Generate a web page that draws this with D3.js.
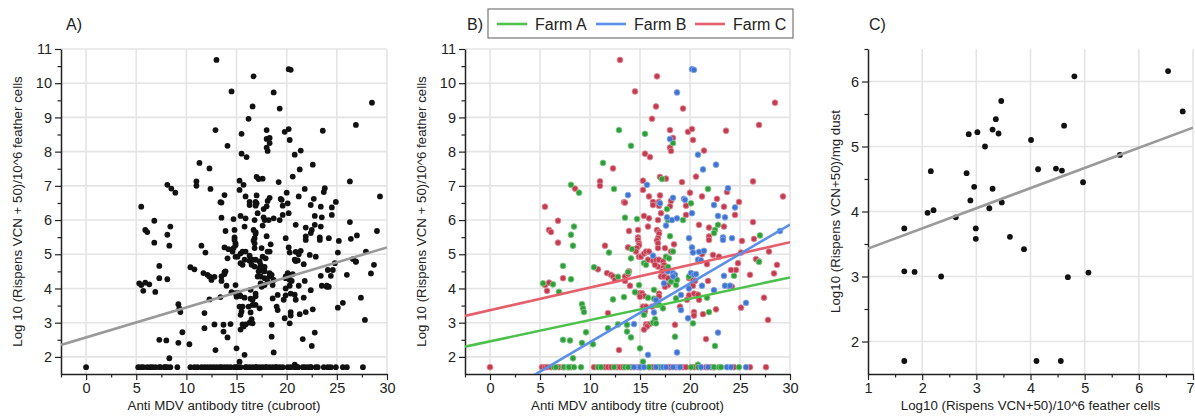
<!DOCTYPE html>
<html>
<head>
<meta charset="utf-8">
<script src="https://d3js.org/d3.v7.min.js"></script>
<style>
body { margin: 0; background: #fff; }
svg text { font-family: "Liberation Sans", Arial, sans-serif; fill: #222; }
</style>
</head>
<body>
<svg id="chart" width="1195" height="417"></svg>
<script>
// log10 of (VCN + 50) for samples below detection sits on this floor
const floorY = 1.7;

// Farm A (green): [antibody titre, log10 VCN]
const farmA = [
  [12.9,8.63],[15.5,8.52],[18.3,8.25],[14.1,8.17],[11.3,7.67],[17.2,7.2],[8.1,7.03],[8.9,6.8],[12.4,6.91],[21.8,6.91],[20.1,6.49],[17.7,6.32],
  [8.4,5.81],[8.1,5.57],[8.3,5.25],[7.3,4.66],[8.1,4.27],[5.3,4.15],[6.3,4.12],[6.9,3.9],[7.3,2.5],[8.0,2.48],[8.3,1.96],
  [13.5,6.07],[14.7,6.03],[17.8,6.0],[19.3,6.0],[18.0,5.53],[14.2,5.15],[14.1,4.88],[15.4,4.74],[15.6,4.69],[17.6,4.93],[18.3,5.08],[17.9,4.88],
  [18.1,4.2],[18.6,4.1],[18.7,4.25],[11.9,5.05],[10.4,4.62],[13.8,4.48],[12.8,4.34],[14.9,4.1],[14.5,3.89],[15.8,3.73],[16.4,3.96],[16.4,3.7],
  [16.9,3.52],[17.3,3.42],[12.3,3.68],[13.4,3.75],[9.2,3.54],[9.3,3.42],[9.4,3.31],[11.8,2.84],[9.6,2.72],[9.2,2.41],[10.3,2.37],[12.8,2.95],
  [13.7,2.74],[13.7,2.94],[14.1,2.57],[15.0,2.25],[15.3,1.86],[15.4,3.23],[16.5,3.1],[16.3,3.0],[16.6,2.98],[18.6,3.71],[18.5,2.59],[17.8,4.63],
  [22.5,5.71],[22.8,5.86],[22.4,5.62],[27.0,5.55],[26.9,4.78],[24.4,4.37],[21.9,3.31],[22.5,2.32],[20.3,2.98],[19.9,4.35],[21.7,3.73],[20.8,1.77]
];
const farmAFloor = [6.4,6.6,7.4,7.8,7.9,8.4,9.1,10.8,11.1,12.4,13.5,13.8,15.9,17.0,20.1,20.8,22.4,22.9,23.1,24.9];

// Farm B (blue)
const farmB = [
  [20.2,10.41],[20.4,10.39],[18.7,9.73],[18.0,8.37],[20.8,7.91],[22.6,7.62],[21.3,7.48],[15.7,7.03],[23.8,6.93],[13.8,6.73],[18.3,6.65],[19.4,6.62],
  [22.4,6.44],[24.5,6.37],[17.0,6.49],[19.5,6.59],
  [18.2,6.0],[18.7,6.05],[17.6,5.84],[17.7,6.08],[16.3,4.96],[17.8,4.5],[18.3,4.45],[18.5,4.4],[18.3,4.35],[17.4,4.15],[16.6,3.67],[16.4,3.3],
  [15.8,2.06],[18.7,2.13],[19.1,3.81],[19.1,3.37],[14.4,2.96],
  [20.2,6.2],[22.8,6.12],[23.5,6.08],[29.0,5.68],[23.4,4.37],[23.5,4.08],[24.0,4.08],[21.2,4.08],[22.4,3.95],[25.6,3.58],[22.8,2.71],[19.8,3.13],
  [23.3,5.49],[23.3,5.42],[24.2,5.47],[19.9,5.47],[20.2,5.2],[20.3,5.05],[20.9,5.07],[21.4,5.1],[20.8,4.84],[21.1,4.82],[20.1,4.45],[20.4,4.4],
  [20.6,4.42],[19.9,4.0]
];
const farmBFloor = [14.4,15.0,15.4,16.6,17.3,17.6,18.3,18.9,19.0,21.1,21.8,23.7,24.1,25.6];

// Farm C (red)
const farmC = [
  [13.0,10.68],[16.7,10.2],[14.5,9.76],[16.6,9.32],[19.3,9.26],[28.5,9.43],[16.2,8.96],[18.0,8.63],[19.8,8.58],[20.2,8.66],[26.9,8.78],[23.6,8.61],
  [18.3,8.4],[20.3,8.34],[18.0,8.12],[18.1,8.02],[21.4,8.03],[15.5,7.94],[16.0,7.84],[12.3,7.51],[20.6,7.27],[17.0,7.26],[17.6,7.21],[11.0,7.13],
  [11.0,7.0],[26.3,7.13],[15.3,7.15],[8.5,6.92],[15.3,6.88],[19.2,7.11],[23.7,6.82],[29.3,6.69],[13.4,6.52],[15.9,6.69],[17.0,6.72],[20.0,6.8],
  [19.6,6.42],[21.2,6.69],[22.7,6.62],[24.9,6.53],[23.4,6.39],[5.5,6.39],[16.3,6.53],[16.3,6.44],[16.9,6.53],[16.9,6.42],[18.0,6.4],[13.5,6.51],[18.1,6.56],
  [6.8,5.98],[5.9,5.71],[6.1,5.65],[6.8,5.34],[7.3,4.3],[5.5,4.1],[5.9,4.17],[5.7,3.93],
  [15.4,6.12],[16.8,6.0],[17.1,6.2],[15.9,6.05],[15.8,5.81],[16.7,5.71],[16.9,5.65],[16.9,5.6],[16.8,5.47],[16.7,5.4],[16.8,5.32],[16.8,5.18],
  [13.9,5.68],[14.8,5.71],[14.8,5.49],[14.8,5.42],[14.9,5.32],[14.9,5.26],[14.7,5.18],[13.8,5.2],[14.6,5.08],[14.9,4.93],[15.1,4.93],[15.4,5.02],
  [15.6,5.08],[15.9,5.08],[15.8,4.84],[16.3,4.81],[16.6,4.84],[16.9,4.84],[16.8,4.64],[16.5,4.69],[17.5,5.18],[18.1,5.08],[18.4,5.29],[17.3,4.79],
  [17.4,4.69],[17.3,4.6],[17.5,4.55],[17.7,4.5],[17.2,4.5],[17.1,4.35],[17.4,4.35],[17.8,4.3],[17.8,4.1],[17.5,4.05],[11.5,5.25],[10.8,4.56],
  [11.7,4.45],[12.1,4.4],[12.3,4.35],[12.5,4.25],[13.5,4.35],[13.8,4.42],[13.9,4.5],[13.5,4.22],[14.0,4.08],[14.9,3.86],[15.2,3.86],[15.4,3.78],
  [15.0,3.76],[16.9,3.85],[16.9,3.77],[11.8,3.28],[12.9,2.2],[15.3,3.47],[15.6,3.47],[15.5,3.33],[15.6,2.95],[15.9,2.95],[15.7,2.89],[15.4,2.8],
  [16.2,3.47],[16.6,3.52],[19.0,3.47],[18.5,2.94],
  [19.6,6.15],[20.9,5.86],[21.9,5.78],[21.9,5.52],[21.9,5.42],[23.4,5.81],[24.5,6.15],[26.3,5.94],[26.4,5.45],[25.2,5.39],[27.9,5.08],[26.6,4.86],
  [26.9,4.79],[28.7,4.69],[28.4,4.44],[24.8,4.74],[24.6,4.54],[24.1,4.54],[26.0,4.4],[24.0,4.05],[24.2,4.05],[21.8,4.22],[22.6,3.39],[21.3,3.25],
  [20.4,3.31],[20.4,3.21],[25.1,3.44],[27.4,3.73],[27.8,3.08],[21.6,2.52],[22.3,4.98],[22.9,4.93],[21.2,5.0],[21.7,4.71],[20.9,4.8],[19.9,4.3],
  [20.3,4.25],[20.5,4.22],[19.9,3.8],[20.4,3.85],[20.8,3.82],[20.9,3.67],[20.3,4.08],[19.7,3.67],[25.1,5.05]
];
const farmCFloor = [0,5.2,5.5,5.7,6.1,6.9,7.3,8.1,10.4,11.5,11.8,12.1,12.7,13.0,13.3,14.1,14.8,15.1,16.0,16.3,16.9,17.9,18.0,18.6,19.3,19.6,20.4,21.1,21.6,22.1,22.4,24.4,26.0,27.6];

// Panel C: [log10 VCN per feather cells, log10 VCN per mg dust]
const dust = [
  [6.54,6.16],[4.81,6.08],[6.81,5.54],[3.46,5.7],[3.36,5.42],[3.3,5.26],[3.41,5.2],[3.02,5.22],[2.86,5.19],[4.62,5.32],[3.16,5.0],[4.01,5.1],
  [2.16,4.62],[2.82,4.59],[4.14,4.65],[4.47,4.66],[4.58,4.63],[5.65,4.87],[4.97,4.45],[2.96,4.38],[3.3,4.35],[2.89,4.17],[3.47,4.14],[3.24,4.05],
  [2.21,4.02],[2.1,3.98],[2.62,3.91],[1.67,3.74],[2.99,3.74],[2.99,3.58],[3.62,3.61],[3.88,3.42],[1.67,3.08],[1.86,3.07],[2.35,3.0],[4.69,2.99],
  [5.07,3.06],[1.67,1.7],[4.11,1.7],[4.56,1.7]
];

// regression lines: [intercept, slope]
const fitAll = [2.57, 0.0877];
const fitFarmA = [2.455, 0.0622];
const fitFarmB = [0.709, 0.172];
const fitFarmC = [3.365, 0.0662];
const fitDust = [3.12, 0.31];

const farmNames = ["Farm A", "Farm B", "Farm C"];
const farmDot = ["#2f9e3a", "#3f74d0", "#c23b4e"];
const farmRim = ["#7cc783", "#86a8e6", "#e08a96"];
const farmLine = ["#4cc24c", "#5b8fe8", "#e5606d"];

const titreTicks = [0, 5, 10, 15, 20, 25, 30];
const titreMinor = [-2.5, 2.5, 7.5, 12.5, 17.5, 22.5, 27.5];
const vcnTicks = [2, 3, 4, 5, 6, 7, 8, 9, 10, 11];
const vcnMinor = [2.5, 3.5, 4.5, 5.5, 6.5, 7.5, 8.5, 9.5, 10.5];
const cellTicks = [1, 2, 3, 4, 5, 6, 7];
const cellMinor = [1.5, 2.5, 3.5, 4.5, 5.5, 6.5];
const dustTicks = [2, 3, 4, 5, 6];
const dustMinor = [2.5, 3.5, 4.5, 5.5, 6.5];

const svg = d3.select("#chart");
const plotTop = 49, plotBottom = 374;

function withFloor(points, floorXs) {
  return points.concat(floorXs.map(v => [v, floorY]));
}

function drawPanel(cfg) {
  const g = svg.append("g");
  const x = d3.scaleLinear().domain(cfg.xDomain).range([cfg.left, cfg.right]);
  const y = d3.scaleLinear().domain(cfg.yDomain).range([plotBottom, plotTop]);

  g.append("clipPath").attr("id", "clip" + cfg.tag)
    .append("rect")
    .attr("x", cfg.left).attr("y", plotTop)
    .attr("width", cfg.right - cfg.left).attr("height", plotBottom - plotTop);

  // grid
  g.append("g").selectAll("line")
    .data(cfg.xTicks.filter(v => v > cfg.xDomain[0]))
    .join("line")
    .attr("x1", d => x(d)).attr("x2", d => x(d))
    .attr("y1", plotTop).attr("y2", plotBottom)
    .attr("stroke", "#e4e4e4").attr("stroke-width", 1.6);
  g.append("g").selectAll("line")
    .data(cfg.yTicks.filter(v => v > cfg.yDomain[0]))
    .join("line")
    .attr("x1", cfg.left).attr("x2", cfg.right)
    .attr("y1", d => y(d)).attr("y2", d => y(d))
    .attr("stroke", "#e4e4e4").attr("stroke-width", 1.6);

  // axes
  const fmt = d3.format("d");
  g.append("g").attr("class", "xmajor").attr("transform", `translate(0,${plotBottom})`)
    .call(d3.axisBottom(x).tickValues(cfg.xTicks).tickFormat(fmt).tickSize(6).tickSizeOuter(0).tickPadding(3));
  g.append("g").attr("transform", `translate(0,${plotBottom})`)
    .call(d3.axisBottom(x).tickValues(cfg.xMinor).tickSize(3.5).tickFormat(() => ""))
    .select(".domain").remove();
  g.append("g").attr("transform", `translate(${cfg.left},0)`)
    .call(d3.axisLeft(y).tickValues(cfg.yTicks).tickFormat(fmt).tickSize(6).tickSizeOuter(0).tickPadding(3));
  g.append("g").attr("transform", `translate(${cfg.left},0)`)
    .call(d3.axisLeft(y).tickValues(cfg.yMinor).tickSize(3.5).tickFormat(() => ""))
    .select(".domain").remove();

  g.selectAll(".tick line").attr("stroke", "#222").attr("stroke-width", 1.2);
  g.selectAll(".domain").attr("stroke", "#222").attr("stroke-width", 1.5);
  g.selectAll(".tick text").attr("font-size", 14.5).attr("fill", "#222")
    .attr("font-family", '"Liberation Sans", Arial, sans-serif');
  if (cfg.lastTickShift) {
    g.selectAll(".xmajor .tick text").filter(d => d === cfg.xDomain[1])
      .attr("dx", cfg.lastTickShift);
  }

  // titles
  g.append("text")
    .attr("x", (cfg.left + cfg.right) / 2).attr("y", 410)
    .attr("text-anchor", "middle").attr("font-size", 13.3)
    .text(cfg.xTitle);
  g.append("text")
    .attr("transform", `translate(${cfg.yTitleX},${(plotTop + plotBottom) / 2}) rotate(-90)`)
    .attr("text-anchor", "middle").attr("font-size", 13.3)
    .text(cfg.yTitle);
  g.append("text")
    .attr("x", cfg.tagX).attr("y", 30)
    .attr("font-size", 16)
    .text(cfg.tag + ")");

  return { g, x, y };
}

function drawDots(p, points, fill, rim) {
  p.g.append("g").selectAll("circle")
    .data(points)
    .join("circle")
    .attr("cx", d => p.x(d[0]))
    .attr("cy", d => p.y(d[1]))
    .attr("r", 2.9)
    .attr("fill", fill)
    .attr("stroke", rim)
    .attr("stroke-width", rim === "none" ? 0 : 0.9);
}

function drawFit(p, fit, color, tag) {
  const xs = p.x.domain();
  p.g.append("line")
    .attr("clip-path", `url(#clip${tag})`)
    .attr("x1", p.x(xs[0])).attr("y1", p.y(fit[0] + fit[1] * xs[0]))
    .attr("x2", p.x(xs[1])).attr("y2", p.y(fit[0] + fit[1] * xs[1]))
    .attr("stroke", color).attr("stroke-width", 2.6);
}

const yTitleVcn = "Log 10 (Rispens VCN + 50)/10^6 feather cells";
const xTitleTitre = "Anti MDV antibody titre (cubroot)";

// Panel A
const pA = drawPanel({
  tag: "A", tagX: 66, left: 61, right: 387,
  xDomain: [-2.5, 30], yDomain: [1.5, 11],
  xTicks: titreTicks, xMinor: titreMinor, yTicks: vcnTicks, yMinor: vcnMinor,
  xTitle: xTitleTitre, yTitle: yTitleVcn, yTitleX: 22
});
const allPoints = withFloor(farmA, farmAFloor)
  .concat(withFloor(farmB, farmBFloor))
  .concat(withFloor(farmC, farmCFloor));
drawDots(pA, allPoints, "#111", "none");
drawFit(pA, fitAll, "#9a9a9a", "A");

// Panel B
const pB = drawPanel({
  tag: "B", tagX: 467, left: 465, right: 790,
  xDomain: [-2.5, 30], yDomain: [1.5, 11],
  xTicks: titreTicks, xMinor: titreMinor, yTicks: vcnTicks, yMinor: vcnMinor,
  xTitle: xTitleTitre, yTitle: yTitleVcn, yTitleX: 426
});
const farmSets = [withFloor(farmA, farmAFloor), withFloor(farmB, farmBFloor), withFloor(farmC, farmCFloor)];
const farmFits = [fitFarmA, fitFarmB, fitFarmC];
[2, 0, 1].forEach(i => drawDots(pB, farmSets[i], farmDot[i], farmRim[i]));
[0, 2, 1].forEach(i => drawFit(pB, farmFits[i], farmLine[i], "B"));

// legend
const legend = svg.append("g").attr("transform", "translate(488,9)");
legend.append("rect").attr("width", 305).attr("height", 29)
  .attr("fill", "#fff").attr("stroke", "#777").attr("stroke-width", 1.2);
const legendX = d3.scaleOrdinal().domain(farmNames).range([9, 108, 207]);
farmNames.forEach((name, i) => {
  const lx = legendX(name);
  legend.append("line").attr("x1", lx).attr("x2", lx + 30).attr("y1", 15).attr("y2", 15)
    .attr("stroke", farmLine[i]).attr("stroke-width", 2.6);
  legend.append("text").attr("x", lx + 38).attr("y", 21)
    .attr("font-size", 16).text(name);
});

// Panel C
const pC = drawPanel({
  tag: "C", tagX: 869, left: 868, right: 1193,
  xDomain: [1, 7], yDomain: [1.5, 6.5],
  xTicks: cellTicks, xMinor: cellMinor, yTicks: dustTicks, yMinor: dustMinor,
  xTitle: "Log10 (Rispens VCN+50)/10^6 feather cells",
  yTitle: "Log10 (Rispens VCN+50)/mg dust", yTitleX: 840,
  lastTickShift: -3
});
drawDots(pC, dust, "#111", "none");
drawFit(pC, fitDust, "#9a9a9a", "C");
</script>
</body>
</html>
